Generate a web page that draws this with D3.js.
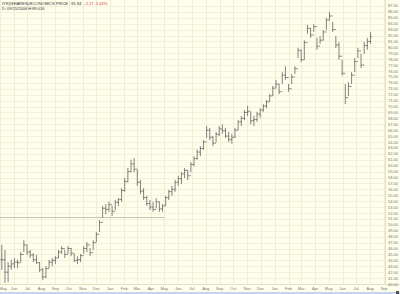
<!DOCTYPE html>
<html>
<head>
<meta charset="utf-8">
<script src="https://cdn.jsdelivr.net/npm/d3@7"></script>
<style>
  body { margin: 0; background: #fffdec; }
  svg { display: block; }
</style>
</head>
<body>
<svg id="chart"></svg>
<script>
// weekly bars, first week starts Mon 3 May 2004
const firstWeek = new Date(2004, 4, 3);

const weekHigh = [
    46.6, 45.75, 43.7, 44.1, 44.4, 44.1, 45.4, 47.4, 46.6, 45.75,
    45.2, 44.9, 43.7, 42.7, 43.0, 44.1, 44.4, 44.7, 45.75, 46.4,
    45.75, 46.4, 46.1, 45.1, 44.7, 45.1, 46.4, 47.1, 46.1, 47.4,
    48.8, 50.8, 53.2, 53.5, 53.9, 53.2, 54.2, 54.5, 56.2, 57.9,
    59.6, 61.0, 61.3, 59.3, 57.6, 56.2, 54.9, 54.2, 53.9, 54.5,
    53.9, 53.5, 54.9, 55.9, 56.6, 57.6, 58.3, 58.9, 59.6, 59.3,
    60.6, 61.6, 62.7, 63.3, 64.3, 66.7, 66.4, 65.0, 65.7, 66.7,
    67.0, 66.4, 65.7, 65.4, 66.4, 67.7, 68.4, 69.4, 70.1, 69.1,
    68.4, 69.1, 69.7, 70.4, 71.1, 72.1, 73.5, 74.5, 73.8, 75.8,
    76.8, 73.8, 75.5, 76.8, 79.9, 79.6, 81.2, 83.8, 83.3, 83.9,
    81.6, 81.9, 82.9, 85.0, 86.0, 84.3, 81.9, 80.9, 77.9, 73.8,
    74.1, 75.8, 78.2, 79.9, 78.9, 80.9, 81.6, 82.6
];
const weekLow = [
    42.4, 40.2, 40.3, 42.4, 42.7, 42.7, 43.7, 45.4, 44.9, 44.4,
    43.7, 43.4, 42.0, 40.7, 41.0, 42.7, 43.0, 43.4, 44.4, 45.1,
    44.4, 45.1, 44.7, 43.7, 43.4, 43.7, 45.1, 45.4, 44.7, 45.75,
    47.1, 48.8, 51.2, 51.8, 52.2, 51.5, 52.5, 53.2, 53.9, 55.6,
    57.2, 58.9, 58.9, 56.6, 55.2, 54.2, 53.2, 52.5, 52.2, 52.8,
    52.2, 52.2, 53.2, 54.2, 54.9, 55.6, 56.6, 56.9, 57.9, 57.6,
    58.9, 59.9, 61.0, 61.6, 62.7, 64.7, 64.3, 63.3, 64.0, 65.0,
    65.4, 64.7, 64.0, 63.7, 64.7, 66.0, 66.7, 67.7, 68.4, 67.0,
    66.7, 67.4, 68.1, 69.1, 69.7, 70.8, 71.8, 73.1, 72.1, 73.8,
    74.5, 72.5, 73.8, 75.5, 78.2, 77.5, 77.9, 82.3, 81.6, 82.6,
    79.6, 80.6, 81.2, 82.9, 84.6, 82.6, 79.9, 77.9, 75.2, 70.4,
    71.8, 73.8, 75.8, 78.2, 76.5, 78.9, 79.6, 80.6
];
const weekClose = [
    44.1, 42.0, 43.0, 43.4, 43.7, 43.6, 45.0, 46.6, 45.4, 44.9,
    44.1, 43.6, 42.4, 41.2, 42.6, 43.7, 44.0, 44.4, 45.4, 46.0,
    45.0, 46.0, 45.2, 44.0, 44.1, 44.8, 46.0, 46.6, 45.3, 47.0,
    48.4, 50.4, 52.8, 52.6, 53.4, 52.3, 53.8, 54.3, 55.8, 57.3,
    59.0, 60.3, 59.4, 57.2, 55.7, 54.6, 53.6, 53.0, 52.6, 53.9,
    52.7, 53.2, 54.6, 55.6, 56.0, 57.2, 57.8, 58.6, 59.2, 58.3,
    60.2, 61.2, 62.3, 62.9, 64.0, 66.0, 64.8, 63.8, 65.3, 66.2,
    65.9, 65.0, 64.4, 64.8, 66.0, 67.4, 68.0, 69.0, 69.2, 67.6,
    67.8, 68.7, 69.4, 70.1, 70.8, 71.8, 73.1, 73.8, 72.5, 75.3,
    74.9, 73.0, 75.0, 76.4, 79.5, 77.9, 80.8, 83.2, 82.1, 83.5,
    80.2, 81.2, 82.6, 84.6, 85.3, 83.0, 80.4, 78.5, 75.6, 71.5,
    73.4, 75.3, 77.6, 79.4, 77.0, 80.3, 81.0, 81.8
];

// horizontal reference line drawn on the chart
const refLevel = 51.4;
const refFrom = new Date(2004, 4, 1);
const refTo = new Date(2005, 4, 2);

const priceTicks = d3.range(40, 88, 1);
const titleMain = "IYR(ISHARES)/ECONOMICS PRICE : 81.84";
const titleChange = "-2.17  -2.42%";
const titleSub = "D: 09/15/2006  H:89.016";

const width = 400, height = 294;
const plotW = 385, plotH = 284;

const svg = d3.select("#chart")
    .attr("width", width)
    .attr("height", height)
    .style("font-family", "Liberation Sans, Arial, sans-serif");

svg.append("rect")
    .attr("width", width).attr("height", height)
    .attr("fill", "#fffdec");

const x = d3.scaleTime()
    .domain([new Date(2004, 4, 1), new Date(2006, 8, 1)])
    .range([0, 384]);

const y = d3.scaleLinear()
    .domain([40, 88])
    .range([plotH, 0]);

const months = d3.timeMonth.range(new Date(2004, 4, 1), new Date(2006, 8, 2));

// grid
svg.append("g")
    .selectAll("line")
    .data(priceTicks)
    .join("line")
    .attr("x1", 0).attr("x2", plotW)
    .attr("y1", d => Math.round(y(d)) + 0.5)
    .attr("y2", d => Math.round(y(d)) + 0.5)
    .attr("stroke", "#f3f0d8")
    .attr("stroke-width", 1);

svg.append("g")
    .selectAll("line")
    .data(months)
    .join("line")
    .attr("x1", d => Math.round(x(d)) + 0.5)
    .attr("x2", d => Math.round(x(d)) + 0.5)
    .attr("y1", 0).attr("y2", plotH)
    .attr("stroke", "#f0edd4")
    .attr("stroke-width", 1);

// right axis separator and bottom axis
svg.append("line")
    .attr("x1", plotW + 0.5).attr("x2", plotW + 0.5)
    .attr("y1", 0).attr("y2", plotH)
    .attr("stroke", "#e4e0c4");
svg.append("line")
    .attr("x1", 0).attr("x2", width)
    .attr("y1", plotH + 0.5).attr("y2", plotH + 0.5)
    .attr("stroke", "#e4e0c4");

// price labels
svg.append("g")
    .selectAll("text")
    .data(priceTicks)
    .join("text")
    .attr("x", 388)
    .attr("y", d => y(d) + 1.5)
    .attr("font-size", "4px")
    .attr("fill", "#777")
    .text(d => d3.format(".2f")(d));

// month labels
svg.append("g")
    .selectAll("text")
    .data(months)
    .join("text")
    .attr("x", d => Math.max(x(d), 3))
    .attr("y", 290)
    .attr("text-anchor", "middle")
    .attr("font-size", "4px")
    .attr("fill", "#777")
    .text(d => d3.timeFormat("%b")(d));

// reference line
svg.append("line")
    .attr("x1", x(refFrom)).attr("x2", x(refTo))
    .attr("y1", Math.round(y(refLevel)) + 0.5)
    .attr("y2", Math.round(y(refLevel)) + 0.5)
    .attr("stroke", "#b4b4ac")
    .attr("stroke-width", 0.8);

// bars
const weeks = weekHigh.map((h, i) => ({
    date: d3.timeDay.offset(firstWeek, 7 * i),
    high: h,
    low: weekLow[i],
    close: weekClose[i],
    open: i > 0 ? weekClose[i - 1] : weekClose[0]
}));

const mid = d => x(d3.timeDay.offset(d.date, 2));

const bars = svg.append("g")
    .attr("stroke", "#505050")
    .attr("stroke-width", 0.7);

bars.selectAll("line.hl")
    .data(weeks)
    .join("line")
    .attr("class", "hl")
    .attr("x1", mid)
    .attr("x2", mid)
    .attr("y1", d => y(d.high))
    .attr("y2", d => y(d.low));

bars.selectAll("line.op")
    .data(weeks)
    .join("line")
    .attr("class", "op")
    .attr("x1", d => mid(d) - 1.5)
    .attr("x2", mid)
    .attr("y1", d => y(d.open))
    .attr("y2", d => y(d.open));

bars.selectAll("line.cl")
    .data(weeks)
    .join("line")
    .attr("class", "cl")
    .attr("x1", mid)
    .attr("x2", d => mid(d) + 1.5)
    .attr("y1", d => y(d.close))
    .attr("y2", d => y(d.close));

// header
const head = svg.append("text")
    .attr("x", 2).attr("y", 5)
    .attr("font-size", "4px")
    .attr("fill", "#333");
head.append("tspan").text(titleMain);
head.append("tspan").attr("fill", "#e03030").attr("dx", 3).text(titleChange);

svg.append("text")
    .attr("x", 2).attr("y", 10)
    .attr("font-size", "4px")
    .attr("fill", "#333")
    .text(titleSub);

// scroll strip at the bottom
svg.append("rect")
    .attr("x", 0).attr("y", 292)
    .attr("width", width).attr("height", 2)
    .attr("fill", "#c4d4ee");
svg.append("rect")
    .attr("x", 396).attr("y", 291)
    .attr("width", 3).attr("height", 3)
    .attr("fill", "#555");
</script>
</body>
</html>
